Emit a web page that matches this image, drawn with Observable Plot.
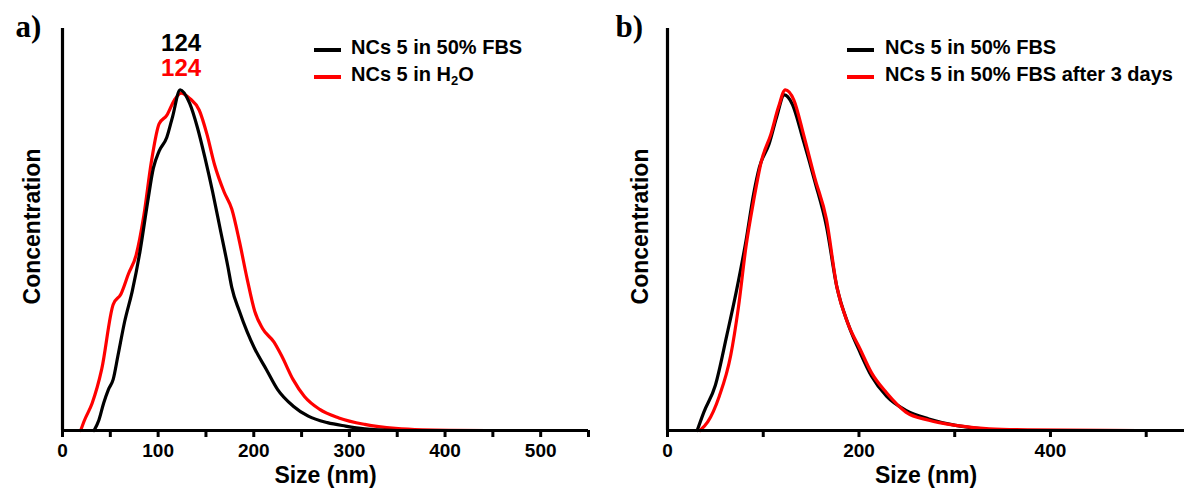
<!DOCTYPE html>
<html><head><meta charset="utf-8">
<script src="https://cdn.jsdelivr.net/npm/d3@7"></script>
<script src="https://cdn.jsdelivr.net/npm/@observablehq/plot@0.6"></script>
<style>
body{margin:0;background:#fff;}
#wrap{position:relative;width:1184px;height:490px;overflow:hidden;background:#fff;font-family:"Liberation Sans",Arial,sans-serif;}
#wrap svg{position:absolute;top:0;max-width:none;background:transparent;}
.leg{position:absolute;font-weight:bold;font-size:20px;line-height:20px;white-space:nowrap;color:#000;}
.leg sub{font-size:13px;line-height:0;vertical-align:-4px;}
.sw{position:absolute;height:4px;width:27px;}
</style></head><body><div id="wrap"></div>
<script>
// ---- data (size in nm, normalized concentration) ----
const aFBS = [[33,0],[38,0.03],[43,0.08],[48,0.12],[53,0.15],[58,0.22],[65,0.32],[73,0.41],[81,0.525],[89,0.67],[95,0.77],[101,0.82],[109,0.86],[115,0.92],[123,1.0],[133,0.96],[141,0.89],[149,0.80],[157,0.70],[165,0.59],[173,0.48],[177,0.42],[185,0.35],[193,0.29],[201,0.24],[213,0.18],[225,0.12],[241,0.072],[257,0.042],[277,0.023],[296,0.013],[316,0.005],[336,0.001],[350,0],[420,0]];
const aH2O = [[19,0],[23,0.03],[31,0.08],[41,0.18],[53,0.37],[61,0.40],[69,0.46],[77,0.515],[85,0.63],[93,0.79],[101,0.90],[109,0.925],[117,0.97],[124,0.99],[133,0.975],[143,0.94],[151,0.87],[159,0.78],[169,0.70],[177,0.65],[185,0.555],[193,0.446],[201,0.35],[209,0.30],[221,0.26],[229,0.22],[241,0.15],[253,0.10],[269,0.062],[289,0.037],[316,0.018],[348,0.006],[376,0.002],[444,0]];
const bFBS = [[31,0],[38,0.054],[50,0.133],[62,0.28],[72,0.41],[82,0.557],[90,0.695],[96,0.773],[106,0.84],[114,0.92],[122,0.985],[130,0.96],[142,0.85],[154,0.73],[166,0.60],[177,0.42],[189,0.31],[201,0.23],[213,0.16],[229,0.10],[249,0.059],[273,0.034],[301,0.015],[328,0.005],[348,0],[450,0]];
const bFBS3d = [[34,0],[42,0.025],[54,0.10],[66,0.22],[74,0.36],[82,0.54],[90,0.675],[98,0.79],[108,0.87],[116,0.95],[123,1.0],[132,0.97],[142,0.87],[154,0.74],[166,0.62],[177,0.42],[189,0.31],[201,0.24],[213,0.17],[229,0.11],[249,0.054],[273,0.03],[301,0.015],[336,0.005],[376,0.002],[491,0]];
const peakA = ["124", "124"];
const ticksAmajor = [0,100,200,300,400,500];
const ticksAminor = [50,150,250,350,450,550];
const ticksBmajor = [0,200,400];
const ticksBminor = [100,300,500];
const legendA = ["NCs 5 in 50% FBS", "NCs 5 in H<sub>2</sub>O"];
const legendB = ["NCs 5 in 50% FBS", "NCs 5 in 50% FBS after 3 days"];
const xTitle = "Size (nm)";
const yTitle = "Concentration";

const RED = "#ff0000", BLACK = "#000000";
const font = "Liberation Sans, Arial, sans-serif";

function panel(o) {
  const marks = [
    ...o.series.map(s => Plot.line(s.data, {x: d => d[0], y: d => d[1], stroke: s.color, strokeWidth: 3.2, curve: "monotone-x"})),
    Plot.ruleY([0], {strokeWidth: 3.2}),
    Plot.ruleX([0], {strokeWidth: 3.2}),
    Plot.axisX({ticks: o.major, tickSize: 7, tickPadding: 6, strokeWidth: 3, fontSize: 19, fontWeight: "bold", label: null, anchor: "bottom"}),
    Plot.axisX({ticks: o.minor, tickSize: 7, strokeWidth: 3, tickFormat: () => "", label: null, anchor: "bottom"}),
    Plot.text([xTitle], {text: d => d, frameAnchor: "bottom", dy: 52, lineAnchor: "bottom", fontSize: 23, fontWeight: "bold"}),
    Plot.text([yTitle], {text: d => d, frameAnchor: "left", rotate: -90, textAnchor: "middle", lineAnchor: "bottom", dx: o.yTitleDx, dy: -3, fontSize: 23, fontWeight: "bold"}),
    Plot.text([o.label], {text: d => d, frameAnchor: "top-left", textAnchor: "start", lineAnchor: "bottom", dx: o.labelDx, dy: 8, fontFamily: "Liberation Serif, Times New Roman, serif", fontSize: 31, fontWeight: "bold"}),
    ...(o.extra || [])
  ];
  return Plot.plot({
    width: o.width, height: 490,
    marginLeft: o.marginLeft, marginRight: o.marginRight, marginTop: 28, marginBottom: 60,
    x: {domain: o.domain}, y: {domain: [0, 1.18], axis: null},
    style: {fontFamily: font, background: "transparent", color: "#000", overflow: "visible"},
    marks
  });
}

const plotA = panel({
  width: 592, marginLeft: 62, marginRight: 4, domain: [0, 550],
  major: ticksAmajor, minor: ticksAminor, label: "a)", labelDx: -47, yTitleDx: -22.5,
  series: [{data: aH2O, color: RED}, {data: aFBS, color: BLACK}],
  extra: [
    Plot.text([peakA[0]], {text: d => d, x: () => 124, frameAnchor: "top", lineAnchor: "bottom", dy: 22, fill: BLACK, fontSize: 24, fontWeight: "bold"}),
    Plot.text([peakA[1]], {text: d => d, x: () => 124, frameAnchor: "top", lineAnchor: "bottom", dy: 47, fill: RED, fontSize: 24, fontWeight: "bold"})
  ]
});
const plotB = panel({
  width: 592, marginLeft: 75, marginRight: 0, domain: [0, 540],
  major: ticksBmajor, minor: ticksBminor, label: "b)", labelDx: -52, yTitleDx: -20,
  series: [{data: bFBS, color: BLACK}, {data: bFBS3d, color: RED}]
});

const wrap = document.getElementById("wrap");
plotA.style.left = "0px";
plotB.style.left = "592px";
wrap.appendChild(plotA);
wrap.appendChild(plotB);

function legend(items, swLeft, textLeft) {
  const colors = [BLACK, RED];
  items.forEach((t, i) => {
    const top = 37 + i * 27;
    const sw = document.createElement("div");
    sw.className = "sw";
    sw.style.left = swLeft + "px";
    sw.style.top = (top + 11) + "px";
    sw.style.background = colors[i];
    wrap.appendChild(sw);
    const tx = document.createElement("div");
    tx.className = "leg";
    tx.style.left = textLeft + "px";
    tx.style.top = top + "px";
    tx.innerHTML = t;
    wrap.appendChild(tx);
  });
}
legend(legendA, 314, 351);
legend(legendB, 847, 885);
</script></body></html>
